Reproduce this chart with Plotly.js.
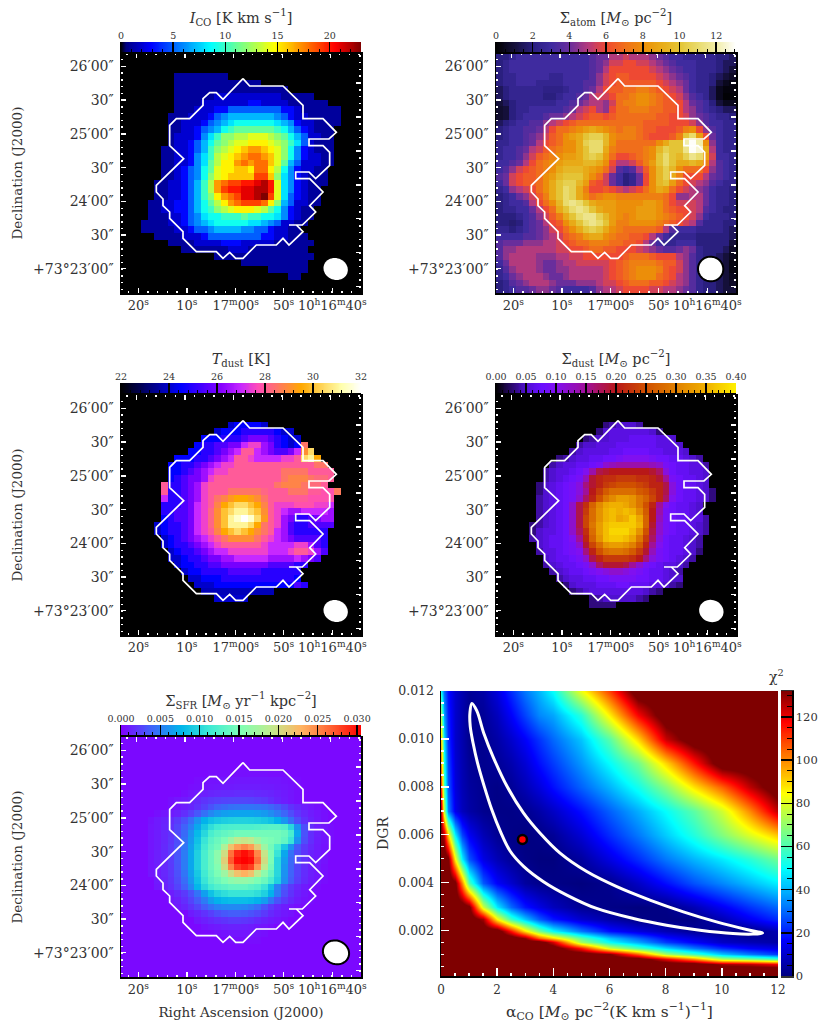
<!DOCTYPE html>
<html>
<head>
<meta charset="utf-8">
<script src="https://cdn.plot.ly/plotly-3.0.1.min.js"></script>
<style>body{margin:0;background:#fff}</style>
</head>
<body>
<div id="chart" style="width:830px;height:1030px"></div>
<script>
"use strict";

// map pixels are 36 x 36, rows listed from the top of the map
const icoFirstRow = 3;
const icoFirstCol = [8,8,8,8,8,8,7,7,7,7,7,6,6,6,6,6,5,5,5,4,4,4,3,3,5,7,9,14,18,22,25];
const icoValues = [
[1,1,1,1,1,1,1,1],
[1,1,1,1,1,1,1,1,1,1,1,1,1],
[1,1,1,1,1,1,1,1,1,1,1,1,1,1,1,1,1],
[1,1,1,1,1,1,2,2,2,2,2,2,2,2,2,2,1,1,1,1,1],
[1,1,1,1,2,2,2,2,2,2,2,3,3,2,2,2,2,1,1,1,1,1,1],
[1,1,1,2,2,2,3,3,5,5,5,5,5,5,5,5,3,3,2,1,1,1,1,1,1],
[1,1,1,2,2,2,3,5,6,7,7,7,7,7,7,7,6,5,3,2,2,1,1,1,1,1],
[1,1,2,2,2,3,5,6,7,8,9,9,9,9,9,9,8,7,6,3,2,2,1,1,1,1],
[1,1,2,2,3,5,6,7,9,10,11,11,11,11,11,11,10,9,7,5,3,2,1,1,1],
[1,2,2,2,3,6,8,10,12,12,13,13,14,14,14,13,12,11,9,7,5,2,2,1,1],
[1,2,2,3,5,7,9,11,12,13,14,14,15,15,15,14,13,12,10,8,5,2,1,1,1],
[1,1,2,2,3,5,7,10,12,13,14,15,16,17,17,16,15,14,12,9,6,3,2,1,1,1],
[1,1,2,2,3,6,8,10,13,14,15,16,17,18,18,17,16,14,12,9,6,3,2,2,1,1],
[1,1,2,2,3,6,8,11,13,15,15,17,18,17,18,18,16,14,11,7,5,2,2,2,1,1],
[1,1,2,3,5,6,9,11,14,15,15,16,16,15,18,18,15,13,9,6,3,2,2,1,1],
[1,1,2,3,5,6,9,12,14,15,16,16,16,16,19,19,16,12,8,6,3,2,1,1,1],
[1,1,2,2,3,5,7,10,13,17,18,19,19,20,20,21,22,20,14,8,6,3,2,1,1,1],
[1,1,2,2,3,5,7,10,13,17,19,20,20,21,21,22,22,20,14,8,6,3,2,1,1],
[1,1,2,2,3,5,7,10,12,15,17,18,19,21,21,22,23,19,14,8,5,3,2,1,1],
[1,1,2,2,3,3,5,7,9,11,13,15,17,18,19,19,19,18,15,12,7,5,2,2,1,1],
[1,1,2,2,3,3,5,7,9,10,12,13,14,15,15,15,14,13,11,9,6,3,2,1,1],
[1,1,1,2,2,3,5,6,8,9,9,10,10,10,11,10,10,9,9,8,6,3,2,1,1],
[1,1,1,1,2,2,3,5,6,7,8,9,9,9,9,9,8,8,7,6,5,2,2,1,1],
[1,1,1,1,1,2,2,3,5,5,6,7,7,7,7,6,6,5,5,3,2,2,1,1],
[1,1,1,1,2,2,2,3,5,5,5,5,5,5,5,5,3,3,2,2,1,1,1],
[1,1,1,1,2,2,2,2,3,3,3,2,2,2,2,2,1,1,1,1,1,1],
[1,1,1,1,1,1,1,2,2,2,1,1,1,1,1,1,1,1,1],
[1,1,1,1,1,1,1,1,1,1,1,1,1,1,1],
[1,1,1,1,1,1,1,1,1,1],
[1,1,1,1,1,1],
[1,1]
];

const atomValues = [
[2,2,2.5,3,3,3,3,3,3,3,3,3,3,3,3.5,4,4,5,5,5.5,5,5,5,4.5,4,3.5,3,3,2.5,2.5,2.5,2.5,2.5,2,2,1.5],
[2,2.5,3,3,3,3,3,3,3,3,3,3,3,3,3.5,4,4.5,5.5,5.5,6,6,5.5,5.5,5,4.5,4,3.5,3,3,3,2.5,2.5,2.5,2,1.5,1.5],
[2,2.5,3,3,3,3,3,3,3,3,3,3,3,3,3.5,4,5,6,6,6,6,6,6,5.5,5,4.5,4,3.5,3,3,2.5,2.5,2.5,2,1.5,1],
[2,2.5,2.5,3,3,3,3,3,2.5,2.5,3,3,3,3,3.5,4.5,5.5,6,6.5,6.5,6,6,6,6,5.5,5,4.5,4,3.5,3,2.5,2.5,2,1.5,1,.7],
[2,2.5,2.5,3,3,3,2.5,2.5,2.5,2.5,3,3,3,3.5,3.5,4.5,5.5,6,6.5,6.5,6.5,6.5,6.5,6.5,6,5.5,5,4.5,4,3,2.5,2.5,2,1,.5,.3],
[1.5,2,2.5,2.5,2.5,2.5,2.5,2.2,2.2,2.2,2.5,3,3,3.5,4,5,6,6.5,6.5,7,7,7.5,7.5,7,6.5,6,5.5,5,4,3,2.5,2.5,1.5,.5,.2,.2],
[1.5,2,2.5,2.5,2.5,2.5,2.5,2,2,2.5,3,3,3.5,4,5,5.5,5.5,6,7,7,7.5,8,8,7.5,7,6.5,6,5.5,4.5,3.5,3,2.5,1.5,.5,.1,.1],
[1,1.5,2,2.5,2.5,2.5,2.5,2.5,2.5,3,3,3.5,4,4.5,5,5,4.5,5.5,7,7.5,7.5,8,8,7.5,7,6.5,6.5,6,5,4,3.5,3,2,1,.5,.5],
[.8,1,2,2.5,2.5,3,3,3,3,3,3.5,4,5,5.5,6,5,4.5,6,7,7,7.5,7.5,7.5,7,7,6.5,6.5,6,5,4.5,3.5,3,2.5,2,1.5,1.5],
[.8,1,2,2.5,3,3,3,3.5,4,4,4.5,5,5.5,6,6.5,6.5,6,6.5,7,7,7,7,7,7,6.5,6.5,6,6,5.5,4.5,4,3.5,3,2.5,2.5,2],
[1.5,2,2.5,3,3,3.5,3.5,4.5,5,5.5,6,6.5,7,7,7,7,7,7,7,7,7,7,6.5,6.5,6.5,6.5,6,6,6,5.5,4.5,3.5,3,3,2.5,2.5],
[2,2.5,3,3,3.5,3.5,4,5,6,7,7,7.5,8,8.5,9,8.5,8,7.5,7,7.5,7.5,7,6.5,6.5,6,6,6,6.5,7.5,8,6,4.5,3.5,3,2.5,2.5],
[2,2.5,3,3,3.5,4,4.5,5.5,6.5,7,8,8.5,9,10,10.5,10.5,9.5,8,7.5,7.5,7.5,7,6.5,6,6,6,6.5,7.5,10,11,8.5,6,4,3,2.5,2.5],
[2.5,2.5,3,3,3.5,4,5,6,6.5,7,8,8,9,10.5,11,11,9.5,8,7,7,7,7,7,7,8,9,10,10,12,13,12,8,4.5,3,2.5,2.5],
[2.5,3,3,3.5,4,5,5.5,6.5,7,7.5,8,8,9,10,11,11,9,7.5,7,7,7,7,7.5,8,9.5,10.5,10,10,11.5,13,12.5,9,5,3,2.5,2.5],
[2.5,3,3,3.5,4.5,5.5,6.5,7,7.5,8,8.5,8.5,9,10,10.5,10,8.5,7,6,6,6.5,7,7.5,8,10,11,10,9.5,10.5,11.5,11,8.5,5.5,3,3,2.5],
[3,3,3.5,4,5,6,7,7.5,8,8.5,9,9,9,9.5,9.5,9,8,6,5,5,5.5,6.5,7.5,8.5,10,11,10,9,9,9.5,9,7.5,5,3.5,3,2.5],
[3,3.5,4.5,5.5,6,6.5,7,7.5,8,9,9.5,9.5,9.5,9,8.5,8,7,5.5,3.5,3,3.5,5,6.5,8,9.5,10.5,9.5,8,7,7,7,6,4.5,3.5,3,2.5],
[3.5,4,5.5,6,6.5,6.5,7,8,8.5,9.5,10,10,10,9,8,7,5.5,4,3,2,2.5,4,6,8,9.5,10.5,9,7.5,6,6,6,5,4,3.5,3,2.5],
[3,4,5.5,6,6.5,6.5,7,8,9,10,10.5,10.5,9.5,8.5,6.5,6,5.5,4,3,2,2.5,4,6,8,9.5,10,8.5,7,6,5.5,5,4.5,3.5,3,2.5,2.5],
[2.5,3,4.5,5,5.5,6,7,8,9,10,11,10.5,9,7.5,6,6,6.5,6,5.5,5,5.5,6,7,8,9,8.5,7,6,5.5,5,4.5,4,3,2.5,2.5,2],
[2,2.5,3,4,4.5,5.5,6.5,7.5,9,10,11,10.5,9,8,7,7.5,8,8,7.5,7.5,7.5,7.5,7.5,7.5,7.5,7,6,4.5,4.5,5,5,4,3,2.5,2.5,2],
[2,2.5,3,3,3.5,5,6,7,8,9.5,11,11.5,11,10,9,8.5,8.5,8.5,8,8,8,8,8.5,8.5,8,7,6,5.5,5.5,5.5,5,4,3,2.5,2.5,2],
[2,2.5,2.5,3,3,4,5,6,7,9,10,11,11.5,11,10,9,8.5,8.5,8,8,8,8.5,8.5,8.5,8,7,6.5,6,6,5.5,5,3.5,3,2.5,2,2],
[2,2,2,2.5,3,3.5,4.5,5.5,6.5,7.5,9,10,11,11.5,11.5,10.5,9.5,8.5,8,7.5,8,8.5,8.5,8.5,8,7.5,7,6.5,6,5.5,4.5,3,2.5,2.5,2.5,2],
[2,2,1.8,2,3,3.5,4,5,6,6.5,8,9,10,11,11.5,11,10,8.5,7.5,7.5,8,8,8,8,7.5,7,6.5,6,5.5,5,3.5,2.5,2.5,2.5,2,2],
[2.5,2.5,2,2.5,3,3.5,4,4.5,5.5,6,7,8,9,10,10.5,10,9,8,7.5,7,7,7,7,7,6.5,5,3.5,3,3,3,2.5,2.5,2.5,2.5,2,1.5],
[3,3,3,3,3.5,3.5,4,4.5,5,5.5,6.5,7,7.5,8.5,9,9,8,7.5,7,7,6.5,6.5,6,5,4,3,2.5,2.5,2.5,2.5,2,2,2,2,2,1.5],
[3.5,4,4,4,4.5,4.5,4.5,5,5,5.5,6,6.5,7,7,7.5,7.5,7.5,7,7,6.5,6.5,6,5,4,3,2.5,2.5,3,3,3,2,2,2,2,2,1],
[3.5,4.5,4.5,5,5,5,5,5,5,5.5,5.5,6,6,6.5,7,7,6.5,6.5,6,6,6,5.5,5,4.5,4,3.5,3.5,4,4.5,4,2.5,2,2,2,1.5,.7],
[3.5,4.5,5,5,5,5,4.5,4.5,4.5,5,5,5.5,5.5,6,6,6,6,6,6,6.5,7,7,7,6.5,6,6,6,5,4.5,3.5,2.5,2,2,1.5,1,.5],
[3,4,5,5,5,5,4.5,4,4,4.5,5,5,5.5,5.5,5.5,5.5,5.5,6,6.5,7,7.5,7.5,7.5,7.5,7,6.5,6.5,5.5,4.5,3.5,2.5,2,2,1.5,1,.3],
[2.5,3.5,4.5,5,5,5,4.5,4,4,4.5,4.5,5,5,5,5,5,5.5,6,6.5,7,7.5,8,8,8,7.5,6.5,6,5.5,4.5,3.5,2.5,2,2,1.5,1,.3],
[2.5,3,4,4.5,5,5,5,4.5,4,4,4.5,5,5,5,5,5,5.5,6,6.5,7,7.5,8,8,8,7,6.5,6,5,4.5,3.5,2.5,2,2,1.5,1,.5],
[2,2.5,3.5,4,4.5,5,5,5,4.5,4,4,4,4.5,4.5,4.5,5,5.5,5.5,6,6.5,7,7,7,6.5,6.5,6,5.5,5,4.5,3.5,2.5,2,2,1.5,1,.7],
[2,2.5,3,3.5,3.5,4,4.5,4.5,4,3.5,3,3,3,3,3.5,4.5,5,5,5.5,6,6,6,6,5.5,5.5,5,5,4.5,4,3.5,2.5,2,2,1.5,1,1]
];

const tdustFirstRow = 4;
const tdustFirstCol = [16,14,12,11,10,8,7,7,7,6,6,6,6,6,6,5,5,6,6,7,7,8,9,10,11,12,14];
const tdustValues = [
[24,24.5,24.5,24.5,24.5,24],
[24,24.5,24.5,24.5,25,25,25,25,25,24.5,24,24],
[24.5,24.5,24.5,25,25,25,25.5,26,26,26,25.5,25,24.5,24,24],
[24.5,25,25,25.5,25.5,26,26,27,27.5,27.5,26.5,26,25,24.5,24,24.5,28.5],
[24.5,24.5,25,25,25.5,26,26.5,27,28,28,27,26.5,26,25.5,25.5,26,27,29,30.5],
[24.5,24.5,24.5,25,25,25.5,26,26.5,27,28,28,27.5,27,27,27,27,27.5,27.5,28,30.5,31,29.5],
[24.5,24.5,25,25,25.5,26,26.5,27,27.5,27.5,28,28,28,28,28,28,28,28,28,28,28,28,28.5,28.5],
[24.5,24.5,25,25.5,26,26.5,27,27.5,27.5,28,28,28,28,28,28,28,28,28.5,28.5,28.5,28.5,28,28,28,28],
[24.5,25,25.5,26,26,26.5,27.5,28,28,28,28,28,28,28,28,28,28,28.5,28.8,28.8,28.8,28.5,28.3,28.3,28],
[28,25,25,25.5,26,26.5,27.5,28,28,28,28,28,28,28,28,28,28,28.5,28.8,28.8,28.8,28.5,28.3,28.3,28],
[28,25,25,25.5,26,26.5,27.5,28,28,28,28.5,28.5,28.5,28.5,28.5,28.2,28,28,28,28.5,28.5,28.5,28,28,27.8,27.8,28.6],
[27,25,25,25.5,26,26.5,27.5,28,28.5,28.8,29.2,29.5,29.5,29.3,29,28.5,28,28,28,28,28,28,27.8,27.8,27.8,27.8],
[25,25,25,25.5,26,27,27.5,28,28.8,29.5,30,30.5,30.5,30,29.5,28.8,28,27.5,27.5,27.5,27.8,27.8,27.8,27.5,27.5,27],
[25,25,25.5,25.5,26,27,27.5,28.2,29,30,30.5,31,31,30.5,30,29,28,27.5,27,26.5,26.5,27,27,27,27,26.5],
[24.5,25,25.5,25.5,26,27,27.5,28.2,29,30,31,31.5,32,31.5,30.5,29.2,28,27.5,26.5,26,25,25,25.5,26,26.5,26.5],
[24,24.5,25,25,25.5,26,27,27.5,28.2,29,30,31,31,31,30.5,29.5,28.5,28,27.5,26.5,25.5,25,25,25.5,25.5,25.5,25.5],
[24,24.5,25,25,25.5,26,27,27.5,28,28.8,29.5,30,30.5,30,29.5,29,28.5,28,27,26.5,25.5,25,25,25,25,25],
[24,24.5,25,25.5,26,26.5,27,27.5,28,28.5,29,29,29,29,28.5,28,27.5,27,26.5,26,25.5,25.5,25.5,25.5,25],
[24,24.5,25,25,25.5,26,26.5,27,27.5,28,28,28,28,28,28,27.5,27,27,27,27,27.5,27.5,26.5,25.5,25],
[24,24.5,25,25,25.5,26,26.5,27,27,27.5,27.5,27.5,27.5,27.5,27.5,27,27,27,27.5,28,28,27.5,26.5,25.5],
[24,24,24.5,25,25,25.5,26,26,26.5,26.5,27,27,27,27,27,26.5,26.5,26.5,26.5,27,26.5,26,25.5],
[24,24.5,24.5,25,25,25.5,25.5,26,26,26,26,26,26,26,25.5,25.5,25.5,25.5,25,25],
[24,24.5,24.5,25,25,25,25,25.5,25.5,25.5,25.5,25.5,25,25,25,25,25,25],
[24,24,24.5,24.5,24.5,25,25,25,25,25,25,25,25,25,25,25,24.5],
[24,24,24,24.5,24.5,24.5,24.5,24.5,24.5,24.5,24.5,24.5,24.5,24.5,24.5,25.5,25],
[23.8,23.8,23.8,23.8,23.8,23.8,23.8,23.8,23.8,23.8,23.8],
[24,24,24,24,24]
];

// surface density of dust in units of 0.01
const sdustFirstRow = 4;
const sdustFirstCol = [16,15,13,12,11,9,8,7,7,6,6,6,6,6,6,5,5,5,6,6,7,7,8,9,10,11,14,14];
const sdustValues = [
[3,4,5,5,5,4],
[3,5,6,6,6,6,6,6,5,3],
[3,4,5,5,6,6,6,7,7,7,7,6,6,5],
[4,5,5,6,6,6,7,7,7,7,7,7,6,6,6,5],
[4,5,6,6,6,6,7,7,8,8,8,8,7,7,6,6,6,5],
[3,4,5,6,6,7,7,8,8,9,10,10,10,10,9,8,8,7,7,6,5,4],
[4,5,6,6,7,7,8,9,12,13,14,14,14,14,14,13,12,9,8,7,7,6,6,4],
[4,5,6,6,7,8,10,14,18,19,20,20,20,20,20,20,19,17,11,8,7,7,6,6,5],
[4,5,6,7,8,9,13,19,21,22,22,23,23,23,22,22,21,19,15,9,8,7,7,6,5],
[3,5,6,7,8,9,11,16,19,21,23,24,25,25,25,24,23,21,21,18,11,8,7,7,6,5],
[3,5,6,7,8,9,11,15,20,23,26,28,28,28,28,26,25,23,21,18,11,8,7,7,6,5,3],
[4,5,6,7,8,9,12,17,21,25,29,31,33,33,32,29,27,24,21,17,10,8,7,7,6,5,3],
[4,5,6,7,8,12,18,22,27,31,34,35,35,34,32,29,25,21,15,10,8,7,7,6,5],
[4,5,6,7,8,12,18,23,28,32,35,36,35,36,35,31,26,20,14,9,8,7,7,6,5],
[4,5,6,7,8,12,18,24,28,32,35,36,34,35,37,34,27,20,13,9,8,7,7,6,6,4],
[3,4,5,6,7,8,12,18,24,29,33,36,37,37,37,37,35,27,19,12,9,8,7,7,6,5,4],
[3,5,6,6,7,8,12,17,22,28,33,36,38,38,38,36,32,25,18,12,9,8,7,7,6,5,4],
[4,5,6,7,7,8,10,15,21,27,32,36,37,37,36,34,29,23,17,11,8,7,7,6,5,4],
[5,6,7,7,8,9,12,19,24,28,32,33,33,32,30,26,21,15,10,8,7,7,6,5,4],
[4,6,6,7,8,9,10,16,21,25,28,29,29,28,26,23,19,13,9,8,7,7,6,5,3],
[5,6,7,7,8,9,12,18,21,23,23,23,23,22,20,16,11,9,8,7,6,5,4],
[4,5,6,7,7,8,9,12,17,19,19,19,18,15,12,9,8,7,6,6,5,4],
[4,5,6,7,7,8,9,10,11,12,12,11,10,9,8,7,7,6,5,4],
[4,5,6,6,7,7,8,8,9,9,9,9,8,8,7,7,6,5,5],
[3,5,6,6,6,7,7,7,8,8,7,7,7,6,6,5,4,3],
[3,4,5,6,6,6,6,6,6,6,6,5,4,3],
[3,4,5,5,5,5,5,4,3],
[3,3,3,3]
];

// star formation rate in units of 0.001
const sfrBackground = 0.3;
const sfrFirstRow = 5;
const sfrFirstCol = [13,11,10,9,7,7,5,4,4,4,4,4,4,4,4,4,5,5,7,7,8,10,11,12,14,16];
const sfrValues = [
[.5,.5,.5,.5,.6,.6,.6,.6,.6,.5,.5,.5],
[.5,.6,.7,.7,.8,.8,.9,.9,.9,.9,.9,.8,.8,.7,.6,.5],
[.5,.6,.7,.8,.9,1,1,1.1,1.1,1.1,1.1,1,1,.9,.8,.7,.5],
[.6,.8,1,1.2,1.4,1.5,1.6,1.6,1.7,1.7,1.7,1.6,1.5,1.4,1.2,1,.8,.6],
[.6,.8,1,1.3,1.6,2,2.3,2.5,2.6,2.7,2.7,2.7,2.6,2.4,2.2,1.8,1.4,1.1,.8,.6],
[.6,.8,1.1,1.4,1.9,2.5,3.2,3.8,4.2,4.5,4.6,4.7,4.7,4.6,4.4,4,3.5,2.8,2,1.5,1.1,.8,.6],
[.6,.8,1,1.3,1.8,2.5,3.4,4.5,5.5,6.2,6.6,6.8,6.9,6.9,6.9,6.7,6.4,5.8,5,4,3,2.1,1.5,1.1,.8,.6],
[.7,1,1.3,1.7,2.3,3.2,4.4,6,7.5,8.5,9,9.3,9.5,9.6,9.6,9.5,9.3,9,8.5,7.5,6.2,4.5,3,1.9,1.3,.9,.6],
[.8,1,1.4,1.9,2.7,3.8,5.2,7,9,10.5,11.5,12,12.2,12.3,12.3,12.3,12.5,12.8,13,13,12.5,10,6,3,1.7,1.1,.8,.5],
[.8,1.1,1.5,2,2.9,4.2,6,8,10,12,13,13.5,14,14.5,14.5,14.5,14.5,14.5,14.5,14.5,14,12,7,3.2,1.8,1.2,.8,.5],
[.8,1.1,1.5,2.1,3,4.5,6.3,8.5,11,13,14,15,17,19,19.5,19,17,15.5,15,14.5,13.5,11,6,3,1.8,1.1,.8,.5],
[.8,1.1,1.6,2.2,3.2,4.7,6.6,9,11.5,13.5,14.5,18,22,24,25,24,21,17,14.5,12,9,6,3.5,2.2,1.5,1,.7],
[.8,1.2,1.6,2.3,3.3,5,7,9.5,12,14,16,20,26,29,30,29,25,19.5,15,11,7,4.5,3,2,1.3,1,.7],
[.8,1.2,1.6,2.3,3.4,5,7,9.5,12,14,16,21,27,30,30.5,30,26,20,15,10,6.5,4.2,2.8,1.9,1.3,1,.7],
[.8,1.1,1.6,2.2,3.3,5,7,9.5,12,14,15.5,20,25,28,29,28,24,19,14.5,10,6.2,4,2.7,1.8,1.2,.9,.6],
[.8,1.1,1.5,2.1,3.1,4.7,6.6,9,11.5,13.5,15,17,20,22,23,22,19,16,13.5,10,6,3.9,2.6,1.7,1.2,.9,.6],
[1,1.4,2,2.9,4.3,6.2,8.5,11,13,14,15,16,16.5,16.5,16,15,14,12,9.5,5.8,3.7,2.4,1.6,1.1,.8,.5],
[.9,1.3,1.8,2.6,3.8,5.5,7.8,10,11.5,12.5,13,13.5,13.5,13.5,13,12.5,11,8.5,5.2,3.4,2.2,1.5,1,.7,.5],
[1.1,1.6,2.2,3.2,4.6,6.6,8.5,9.8,10.5,11,11,11,11,10.5,9.5,7.5,5,3,2,1.3,.9,.6],
[.9,1.2,1.8,2.6,3.6,5,6.5,7.5,8,8.2,8.2,8.2,8,7.5,6.5,4.8,3.2,2.2,1.5,1,.7,.5],
[1,1.4,2,2.7,3.6,4.5,5.2,5.5,5.6,5.6,5.4,5,4.3,3.2,2.2,1.5,1.1,.8,.6],
[1,1.4,1.9,2.4,3,3.4,3.6,3.6,3.5,3.2,2.8,2.2,1.6,1.2,.9,.7],
[.9,1.2,1.5,1.8,2,2.2,2.2,2.1,1.9,1.6,1.3,1,.8,.6],
[.7,.9,1,1.2,1.3,1.3,1.2,1.1,.9,.8,.6],
[.6,.7,.8,.8,.8,.8,.7,.6],
[.5,.5,.5,.5,.5]
];

// outline of the region used for the fit, in map columns and rows
const regionCol = [18.3,19.3,24.3,27.3,27.3,30.3,32.3,31.2,28.2,28.2,30.3,31.3,31.3,29.2,28.2,26.2,26.2,28.3,30.3,28.3,29.2,27.2,25.2,26.3,27.3,25.2,24.3,23.3,20.3,18.3,17.2,16.3,15.3,14.3,11.3,9.3,9.3,7.3,7.3,6.3,6.3,5.3,5.3,9.4,7.3,7.3,8.3,10.3,12.3,12.3,13.3,14.3,15.3,18.3];
const regionRow = [3.85,4.95,4.95,7.85,9.85,9.85,11.9,12.9,12.9,13.9,13.9,14.9,16.85,18.85,17.85,17.85,18.85,18.85,20.85,22.9,23.85,25.8,25.8,25.8,26.8,28.8,27.8,28.8,28.8,30.8,30.8,29.9,30.8,29.8,29.8,27.8,26.8,24.8,23.85,22.9,21.9,20.85,19.85,15.85,13.9,10.85,9.85,9.85,7.85,6.85,5.95,5.95,6.95,3.85];

// chi square over the fit grid
const alphaGrid = [0,.1,.25,.5,.75,1,1.5,2,2.5,3,3.5,4,5,6,7,8,9,10,11,12];
const dgrGrid = [.0001,.0004,.0006,.0008,.001,.00125,.0015,.0017,.002,.0025,.003,.004,.005,.006,.007,.008,.009,.010,.011,.012];
const H = 140;
const chiValues = [
[H,H,H,H,H,H,H,H,H,H,H,H,H,H,H,H,H,H,H,H],
[H,H,H,H,H,H,H,H,H,H,H,H,H,H,H,H,H,H,H,H],
[H,H,H,H,H,H,H,H,H,H,H,H,H,H,H,H,H,128,125,118],
[H,H,H,H,H,H,H,H,H,H,H,H,H,H,H,120,100,75,68,60],
[H,H,H,H,H,H,H,H,H,H,H,H,H,132,105,72,58,42,32,24],
[H,H,H,H,H,H,H,H,H,H,H,H,115,78,60,45,32,22,16,13],
[H,H,H,H,H,H,H,H,H,H,H,122,72,50,38,24,16,9,7,5],
[H,H,H,H,H,H,H,H,H,130,105,90,62,42,30,18,12,7,4,5],
[H,H,H,H,H,H,H,H,115,88,66,50,32,18,12,7,3,1,1,7],
[H,H,H,H,H,H,128,85,58,42,28,19,10,5,1,.5,1,7,15,22],
[H,H,H,H,H,135,78,47,30,19,13,8,2.5,1,0,1,7,15,23,30],
[H,H,H,135,100,60,28,16,10,4,1.5,1,0,2,9,18,27,34,41,48],
[H,H,135,85,48,27,13,7,3,1,0,0,4,13,22,32,40,47,55,65],
[135,125,90,48,25,15,7,2.5,1,0,1,3,11,22,32,43,54,67,80,92],
[125,75,33,14,8,5,2,1,1,2,5,9,18,29,39,50,62,78,100,125],
[110,60,28,12,7,4,2,1,3,7,12,18,29,40,52,68,88,105,125,H],
[100,52,25,11,6.5,3,2,3,6,11,18,24,36,50,65,90,115,H,H,H],
[90,45,22,10,6,2,2,5,10,16,23,30,42,62,90,124,H,H,H,H],
[70,37,20,10,6,2,3,8,16,25,34,38,55,87,118,H,H,H,H,H],
[50,30,18,10,6,3,5,12,22,32,40,50,82,110,H,H,H,H,H,H]
];

// white confidence curve and best fit
const curveAlpha = [1.10,1.03,1.04,1.14,1.30,1.54,1.81,2.11,2.46,2.94,3.65,4.48,5.54,6.85,8.03,9.22,10.40,11.11,11.45,10.88,9.81,8.63,7.44,6.26,5.19,4.24,3.53,2.94,2.35,1.87,1.52,1.28,1.10];
const curveDgr = [.01148,.01109,.01053,.00984,.00900,.00802,.00704,.00615,.00532,.00468,.00404,.00348,.00292,.00250,.00222,.00201,.00187,.00185,.00189,.00204,.00236,.00278,.00327,.00383,.00446,.00523,.00606,.00690,.00802,.00921,.01025,.01116,.01148];
const bestAlpha = [2.9];
const bestDgr = [.0058];

const raLabels = ["20<sup>s</sup>","10<sup>s</sup>","17<sup>m</sup>00<sup>s</sup>","50<sup>s</sup>","10<sup>h</sup>16<sup>m</sup>40<sup>s</sup>"];
const decLabels = ["26′00″","30″","25′00″","30″","24′00″","30″","+73°23′00″"];

const jet = [[0,"#00007f"],[.125,"#0000ff"],[.375,"#00ffff"],[.64,"#ffff00"],[.89,"#ff0000"],[1,"#7f0000"]];
const jetMasked = [[0,"#000000"],[.02,"#00007f"],[.125,"#0000ff"],[.375,"#00ffff"],[.64,"#ffff00"],[.89,"#ff0000"],[1,"#7f0000"]];
const atomColors = ["#000000","#15103a","#2a1f80","#3f2ba0","#6a2e9c","#b53a7c","#f04a30","#f0701a","#ec9008","#e8ac18","#e4c638","#e9dc70","#f2eeae","#ffffff"];
const atomScale = atomColors.map(function (c, i) { return [i / 13, c]; });
const tdustScale = [[0,"#000000"],[.25,"#0000ff"],[.42,"#8700ff"],[.5,"#c728ff"],[.57,"#ff4cb8"],[.75,"#ffa800"],[.92,"#ffffad"],[1,"#ffffff"]];
const sdustScale = [[0,"#000000"],[.125,"#5010d0"],[.19,"#6a10ff"],[.25,"#8010f0"],[.375,"#a01098"],[.5,"#b81818"],[.625,"#d05000"],[.75,"#e08000"],[.875,"#f0b000"],[1,"#fff000"]];
const sfrScale = [[0,"#8000ff"],[.125,"#4062fa"],[.25,"#00b5eb"],[.375,"#40ebd4"],[.5,"#80ffb4"],[.625,"#c0eb8e"],[.75,"#ffb462"],[.875,"#ff6232"],[1,"#ff0000"]];

const serif = "DejaVu Serif";
const textColor = "#333333";
const W = 830, H_PX = 1030;
const traces = [];
const layout = {
    width: W, height: H_PX, margin: {l: 0, r: 0, t: 0, b: 0},
    paper_bgcolor: "white", plot_bgcolor: "black", showlegend: false,
    font: {family: serif, color: textColor, size: 11},
    shapes: [], annotations: []
};

function font(size) { return {size: size, family: serif, color: textColor}; }

let axisNumber = 1;
function nextAxis() {
    axisNumber++;
    return axisNumber;
}
function domX(a, b) { return [a / W, b / W]; }
function domY(top, bottom) { return [1 - bottom / H_PX, 1 - top / H_PX]; }

function fillGrid(firstRow, firstCol, values, background) {
    const grid = [];
    for (let r = 0; r < 36; r++) {
        const row = new Array(36).fill(background);
        const src = values[r - firstRow];
        if (src) {
            const start = firstCol ? firstCol[r - firstRow] : 0;
            src.forEach(function (v, i) { if (start + i < 36) row[start + i] = v; });
        }
        grid.push(row);
    }
    return grid;
}

function minorTicks(majors, low, high) {
    const step = (majors[1] - majors[0]) / 5;
    const out = [];
    for (let v = majors[0] - 5 * step; v < high; v += step) {
        if (v > low) out.push(v);
    }
    return out;
}

function frameAxis(extra) {
    return Object.assign({
        showgrid: false, zeroline: false, showline: true, linecolor: "black", linewidth: 1.5,
        ticks: "inside", tickcolor: "white", tickwidth: 1.5, ticklen: 5, tickmode: "array",
        fixedrange: true
    }, extra);
}

function minorOf(vals) {
    return {ticks: "inside", tickmode: "array", tickvals: vals, ticklen: 2, tickwidth: 1.5, tickcolor: "white", showgrid: false};
}

// overlay axes are only drawn when a trace sits on them
function holdAxis(xName, yName, xv, yv) {
    traces.push({type: "scatter", mode: "none", x: [xv], y: [yv], hoverinfo: "skip", xaxis: xName, yaxis: yName});
}

function beamPath(col, row, rx, ry, tilt) {
    let path = "";
    for (let i = 0; i < 48; i++) {
        const t = i / 48 * 2 * Math.PI;
        const px = rx * Math.cos(t), py = ry * Math.sin(t);
        const c = col + px * Math.cos(tilt) - py * Math.sin(tilt);
        const r = row + px * Math.sin(tilt) + py * Math.cos(tilt);
        path += (i ? "L" : "M") + c.toFixed(3) + "," + r.toFixed(3);
    }
    return path + "Z";
}

function addColorbar(panel) {
    const n = nextAxis(), top = nextAxis();
    const xs = [];
    for (let i = 0; i < 256; i++) xs.push(panel.zmin + (i + .5) * (panel.zmax - panel.zmin) / 256);
    traces.push({type: "heatmap", x: xs, y: [0], z: [xs], zmin: panel.zmin, zmax: panel.zmax,
        colorscale: panel.scale, showscale: false, hoverinfo: "skip", xaxis: "x" + n, yaxis: "y" + n});
    holdAxis("x" + top, "y" + n, panel.zmin, 0);
    const range = [panel.zmin, panel.zmax];
    layout["xaxis" + n] = frameAxis({domain: domX(panel.left, panel.right), anchor: "y" + n, range: range,
        tickvals: panel.cbMajor, tickcolor: "black", tickwidth: 1.5, ticklen: 10, showticklabels: false,
        minor: {ticks: "inside", tickmode: "array", tickvals: panel.cbMinor, ticklen: 3, tickwidth: 1, tickcolor: "black", showgrid: false}});
    layout["yaxis" + n] = {domain: domY(panel.cbTop, panel.cbTop + 10), anchor: "x" + n, range: [-.5, .5],
        showticklabels: false, ticks: "", showgrid: false, zeroline: false, showline: true, linecolor: "black", linewidth: 1.5, fixedrange: true};
    layout["xaxis" + top] = {overlaying: "x" + n, anchor: "y" + n, side: "top", range: range, domain: domX(panel.left, panel.right),
        tickmode: "array", tickvals: panel.cbMajor, ticktext: panel.cbText, ticks: "", showgrid: false, zeroline: false,
        tickfont: font(9.5), fixedrange: true, title: {text: panel.title, font: font(14.5), standoff: 3}};
}

function addMap(panel) {
    const n = nextAxis(), top = nextAxis(), right = nextAxis();
    const cells = [];
    for (let i = 0; i < 36; i++) cells.push(i + .5);
    traces.push({type: "heatmap", x: cells, y: cells, z: panel.z, zmin: panel.zmin, zmax: panel.zmax,
        colorscale: panel.scale, showscale: false, zsmooth: false, hoverinfo: "skip", xaxis: "x" + n, yaxis: "y" + n});
    traces.push({type: "scatter", mode: "lines", x: regionCol, y: regionRow, line: {color: "white", width: 1.7},
        hoverinfo: "skip", xaxis: "x" + n, yaxis: "y" + n});
    holdAxis("x" + top, "y" + n, 1, 1);
    holdAxis("x" + n, "y" + right, 1, 1);

    const bottomTicks = [2.6, 9.87, 17.2, 24.4, 31.7];
    const topTicks = [2.35, 9.6, 16.85, 24.2, 31.45];
    const leftTicks = [2, 7.07, 12.15, 17.2, 22.25, 27.3, 32.35];
    const rightTicks = [4.5, 9.6, 14.7, 19.8, 24.85, 29.9, 35];
    const dx = domX(panel.left, panel.right), dy = domY(panel.top, panel.top + 240);

    layout["xaxis" + n] = frameAxis({domain: dx, anchor: "y" + n, range: [0, 36], tickvals: bottomTicks, ticktext: raLabels,
        tickfont: font(13), minor: minorOf(minorTicks(bottomTicks, 0, 36)),
        title: panel.xTitle ? {text: panel.xTitle, font: font(13.5), standoff: 11} : undefined});
    layout["yaxis" + n] = frameAxis({domain: dy, anchor: "x" + n, range: [36, 0], tickvals: leftTicks, ticktext: decLabels,
        tickfont: font(14), ticklabelstandoff: 3, minor: minorOf(minorTicks(leftTicks, 0, 36)),
        title: panel.yTitle ? {text: panel.yTitle, font: font(13.5), standoff: 7} : undefined});
    layout["xaxis" + top] = frameAxis({overlaying: "x" + n, anchor: "y" + n, side: "top", domain: dx, range: [0, 36], tickvals: topTicks,
        showticklabels: false, minor: minorOf(minorTicks(topTicks, 0, 36))});
    layout["yaxis" + right] = frameAxis({overlaying: "y" + n, anchor: "x" + n, side: "right", domain: dy, range: [36, 0], tickvals: rightTicks,
        showticklabels: false, minor: minorOf(minorTicks(rightTicks, 0, 36))});

    layout.shapes.push({type: "path", xref: "x" + n, yref: "y" + n, path: beamPath(panel.beam[0], panel.beam[1], panel.beam[2], panel.beam[3], panel.beam[4]),
        fillcolor: "white", line: {color: panel.beamLine, width: panel.beamLine === "black" ? 2 : 0}});
    addColorbar(panel);
}

function steps(from, to, step) {
    const out = [];
    for (let i = 0; from + i * step <= to + 1e-9; i++) out.push(from + i * step);
    return out;
}

addMap({left: 121, right: 361, top: 53, cbTop: 42, z: fillGrid(icoFirstRow, icoFirstCol, icoValues, 0), zmin: 0, zmax: 23, scale: jetMasked,
    cbMajor: [0, 5, 10, 15, 20], cbText: ["0", "5", "10", "15", "20"], cbMinor: steps(0, 23, 1),
    title: "<i>I</i><sub>CO</sub> [K km s<sup>−1</sup>]", yTitle: "Declination (J2000)",
    beam: [32.2, 32.4, 1.85, 1.62, .35], beamLine: "white"});
addMap({left: 496, right: 736, top: 53, cbTop: 42, z: fillGrid(0, null, atomValues, 0), zmin: 0, zmax: 13.08, scale: atomScale,
    cbMajor: [0, 2, 4, 6, 8, 10, 12], cbText: ["0", "2", "4", "6", "8", "10", "12"], cbMinor: steps(0, 13, .5),
    title: "Σ<sub>atom</sub> [<i>M</i><sub>⊙</sub> pc<sup>−2</sup>]",
    beam: [32.2, 32.4, 1.9, 1.85, .2], beamLine: "black"});
addMap({left: 121, right: 361, top: 395, cbTop: 383, z: fillGrid(tdustFirstRow, tdustFirstCol, tdustValues, 0), zmin: 22, zmax: 32, scale: tdustScale,
    cbMajor: [22, 24, 26, 28, 30, 32], cbText: ["22", "24", "26", "28", "30", "32"], cbMinor: steps(22, 32, .4),
    title: "<i>T</i><sub>dust</sub> [K]", yTitle: "Declination (J2000)",
    beam: [32.2, 32.4, 1.85, 1.62, .35], beamLine: "white"});
addMap({left: 496, right: 736, top: 395, cbTop: 383, z: fillGrid(sdustFirstRow, sdustFirstCol, sdustValues, 0), zmin: 0, zmax: 40, scale: sdustScale,
    cbMajor: [0, 5, 10, 15, 20, 25, 30, 35, 40], cbText: ["0.00", "0.05", "0.10", "0.15", "0.20", "0.25", "0.30", "0.35", "0.40"], cbMinor: steps(0, 40, 1),
    title: "Σ<sub>dust</sub> [<i>M</i><sub>⊙</sub> pc<sup>−2</sup>]",
    beam: [32.3, 32.4, 1.85, 1.65, .35], beamLine: "white"});
addMap({left: 121, right: 361, top: 737, cbTop: 725, z: fillGrid(sfrFirstRow, sfrFirstCol, sfrValues, sfrBackground), zmin: 0, zmax: 30.5, scale: sfrScale,
    cbMajor: [0, 5, 10, 15, 20, 25, 30], cbText: ["0.000", "0.005", "0.010", "0.015", "0.020", "0.025", "0.030"], cbMinor: steps(0, 30, 1),
    title: "Σ<sub>SFR</sub> [<i>M</i><sub>⊙</sub> yr<sup>−1</sup> kpc<sup>−2</sup>]", yTitle: "Declination (J2000)", xTitle: "Right Ascension (J2000)",
    beam: [32.25, 32.3, 2, 1.75, .4], beamLine: "black"});

// chi square panel
const chiAxis = nextAxis();
traces.push({type: "heatmap", x: alphaGrid, y: dgrGrid, z: chiValues, zmin: 0, zmax: 132, colorscale: jet, showscale: false,
    zsmooth: "best", hoverinfo: "skip", xaxis: "x" + chiAxis, yaxis: "y" + chiAxis});
traces.push({type: "scatter", mode: "lines", x: curveAlpha, y: curveDgr, line: {color: "white", width: 3, shape: "spline", smoothing: 1},
    hoverinfo: "skip", xaxis: "x" + chiAxis, yaxis: "y" + chiAxis});
traces.push({type: "scatter", mode: "markers", x: bestAlpha, y: bestDgr, marker: {color: "#ff0000", size: 9, line: {color: "black", width: 2.5}},
    hoverinfo: "skip", xaxis: "x" + chiAxis, yaxis: "y" + chiAxis});
layout["xaxis" + chiAxis] = frameAxis({domain: domX(441, 778), anchor: "y" + chiAxis, range: [0, 12], tickvals: [0, 2, 4, 6, 8, 10, 12],
    ticktext: ["0", "2", "4", "6", "8", "10", "12"], ticklen: 8, tickfont: font(12), ticklabelstandoff: 2,
    minor: Object.assign(minorOf(steps(0, 12, .5)), {ticklen: 3}),
    title: {text: "α<sub>CO</sub> [<i>M</i><sub>⊙</sub> pc<sup>−2</sup>(K km s<sup>−1</sup>)<sup>−1</sup>]", font: font(15.5), standoff: 10}});
layout["yaxis" + chiAxis] = frameAxis({domain: domY(691, 976), anchor: "x" + chiAxis, range: [.0001, .012], tickvals: [.002, .004, .006, .008, .01, .012],
    ticktext: ["0.002", "0.004", "0.006", "0.008", "0.010", "0.012"], ticklen: 8, tickfont: font(12.5), ticklabelstandoff: 3,
    minor: Object.assign(minorOf(steps(.0005, .012, .0005)), {ticklen: 3}),
    title: {text: "DGR", font: font(14), standoff: 6}});

// vertical scale of the chi square panel
const chiBar = nextAxis();
const chiSteps = [];
for (let i = 0; i < 256; i++) chiSteps.push((i + .5) * 132 / 256);
traces.push({type: "heatmap", x: [0], y: chiSteps, z: chiSteps.map(function (v) { return [v]; }), zmin: 0, zmax: 132, colorscale: jet,
    showscale: false, hoverinfo: "skip", xaxis: "x" + chiBar, yaxis: "y" + chiBar});
layout["xaxis" + chiBar] = {domain: domX(781, 792), anchor: "y" + chiBar, range: [-.5, .5], showticklabels: false, ticks: "", showgrid: false,
    zeroline: false, showline: true, linecolor: "#333", linewidth: 1.5, mirror: true, fixedrange: true};
layout["yaxis" + chiBar] = frameAxis({domain: domY(691, 976), anchor: "x" + chiBar, side: "right", range: [0, 132], tickvals: [0, 20, 40, 60, 80, 100, 120],
    ticktext: ["0", "20", "40", "60", "80", "100", "120"], tickcolor: "black", ticklen: 11, tickfont: font(11.5),
    minor: {ticks: "inside", tickmode: "array", tickvals: steps(0, 130, 5), ticklen: 5, tickwidth: 1, tickcolor: "black", showgrid: false}});

layout.annotations.push({xref: "paper", yref: "paper", x: 786 / W, y: 1 - 676 / H_PX, text: "χ<sup>2</sup>", showarrow: false, font: font(14)});

Plotly.newPlot("chart", traces, layout, {displayModeBar: false, staticPlot: true});
</script>
</body>
</html>
